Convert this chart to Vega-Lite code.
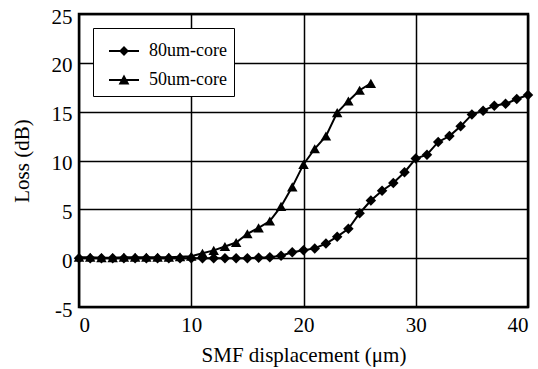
{
  "$schema": "https://vega.github.io/schema/vega-lite/v6.json",
  "width": 449,
  "height": 293,
  "autosize": {"type": "none"},
  "padding": {"left": 79, "top": 14, "right": 10, "bottom": 62},
  "background": "white",
  "config": {
    "font": "Liberation Serif",
    "view": {"stroke": "black", "strokeWidth": 2.5},
    "axis": {
      "grid": true, "gridColor": "black", "gridOpacity": 1, "gridWidth": 1.5,
      "domain": false, "ticks": false,
      "labelFont": "Liberation Serif", "labelFontSize": 21, "labelColor": "black",
      "titleFont": "Liberation Serif", "titleFontSize": 21, "titleFontWeight": "normal", "titleColor": "black"
    }
  },
  "data": {"values": [
    {"x":0,"loss":0,"series":"80um-core"},{"x":1,"loss":0,"series":"80um-core"},{"x":2,"loss":0,"series":"80um-core"},{"x":3,"loss":0,"series":"80um-core"},{"x":4,"loss":0,"series":"80um-core"},{"x":5,"loss":0,"series":"80um-core"},{"x":6,"loss":0,"series":"80um-core"},{"x":7,"loss":0,"series":"80um-core"},{"x":8,"loss":0,"series":"80um-core"},{"x":9,"loss":0,"series":"80um-core"},{"x":10,"loss":0,"series":"80um-core"},{"x":11,"loss":0,"series":"80um-core"},{"x":12,"loss":0,"series":"80um-core"},{"x":13,"loss":0,"series":"80um-core"},{"x":14,"loss":0,"series":"80um-core"},{"x":15,"loss":0,"series":"80um-core"},{"x":16,"loss":0.05,"series":"80um-core"},{"x":17,"loss":0.1,"series":"80um-core"},{"x":18,"loss":0.24,"series":"80um-core"},{"x":19,"loss":0.6,"series":"80um-core"},{"x":20,"loss":0.8,"series":"80um-core"},{"x":21,"loss":1.0,"series":"80um-core"},{"x":22,"loss":1.5,"series":"80um-core"},{"x":23,"loss":2.2,"series":"80um-core"},{"x":24,"loss":3.0,"series":"80um-core"},{"x":25,"loss":4.6,"series":"80um-core"},{"x":26,"loss":5.9,"series":"80um-core"},{"x":27,"loss":6.9,"series":"80um-core"},{"x":28,"loss":7.7,"series":"80um-core"},{"x":29,"loss":8.8,"series":"80um-core"},{"x":30,"loss":10.2,"series":"80um-core"},{"x":31,"loss":10.6,"series":"80um-core"},{"x":32,"loss":11.9,"series":"80um-core"},{"x":33,"loss":12.5,"series":"80um-core"},{"x":34,"loss":13.5,"series":"80um-core"},{"x":35,"loss":14.7,"series":"80um-core"},{"x":36,"loss":15.1,"series":"80um-core"},{"x":37,"loss":15.6,"series":"80um-core"},{"x":38,"loss":15.8,"series":"80um-core"},{"x":39,"loss":16.3,"series":"80um-core"},{"x":40,"loss":16.7,"series":"80um-core"},
    {"x":0,"loss":0.1,"series":"50um-core"},{"x":1,"loss":0.1,"series":"50um-core"},{"x":2,"loss":0.05,"series":"50um-core"},{"x":3,"loss":0.05,"series":"50um-core"},{"x":4,"loss":0.1,"series":"50um-core"},{"x":5,"loss":0.1,"series":"50um-core"},{"x":6,"loss":0.1,"series":"50um-core"},{"x":7,"loss":0.1,"series":"50um-core"},{"x":8,"loss":0.1,"series":"50um-core"},{"x":9,"loss":0.15,"series":"50um-core"},{"x":10,"loss":0.2,"series":"50um-core"},{"x":11,"loss":0.5,"series":"50um-core"},{"x":12,"loss":0.8,"series":"50um-core"},{"x":13,"loss":1.2,"series":"50um-core"},{"x":14,"loss":1.6,"series":"50um-core"},{"x":15,"loss":2.5,"series":"50um-core"},{"x":16,"loss":3.1,"series":"50um-core"},{"x":17,"loss":3.8,"series":"50um-core"},{"x":18,"loss":5.3,"series":"50um-core"},{"x":19,"loss":7.3,"series":"50um-core"},{"x":20,"loss":9.6,"series":"50um-core"},{"x":21,"loss":11.2,"series":"50um-core"},{"x":22,"loss":12.5,"series":"50um-core"},{"x":23,"loss":14.9,"series":"50um-core"},{"x":24,"loss":16.1,"series":"50um-core"},{"x":25,"loss":17.2,"series":"50um-core"},{"x":26,"loss":17.9,"series":"50um-core"}
  ]},
  "encoding": {
    "x": {"field": "x", "type": "quantitative",
      "scale": {"domain": [0, 40], "nice": false},
      "axis": {"values": [0, 10, 20, 30, 40], "title": "SMF displacement (μm)", "labelPadding": 7, "titlePadding": 9}},
    "y": {"field": "loss", "type": "quantitative",
      "scale": {"domain": [-5, 25], "nice": false, "zero": false},
      "axis": {"values": [-5, 0, 5, 10, 15, 20, 25], "labelExpr": "'' + datum.value", "title": "Loss (dB)", "labelPadding": 7, "labelOffset": 3, "titlePadding": 19}}
  },
  "layer": [
    {
      "mark": {"type": "line", "color": "black", "strokeWidth": 2},
      "encoding": {"detail": {"field": "series"}}
    },
    {
      "mark": {"type": "point", "filled": true, "color": "black", "opacity": 1, "size": 110},
      "encoding": {
        "shape": {"field": "series", "type": "nominal",
          "scale": {"domain": ["80um-core", "50um-core"], "range": ["diamond", "triangle-up"]},
          "legend": null}
      }
    },
    {
      "transform": [{"filter": "datum.x < -100"}],
      "mark": {"type": "point", "filled": true, "color": "black", "opacity": 1},
      "encoding": {
        "shape": {"field": "series", "type": "nominal",
          "scale": {"domain": ["80um-core", "50um-core"],
            "range": ["M-1,-0.06L1,-0.06L1,0.06L-1,0.06Z M0,-0.33L0.33,0L0,0.33L-0.33,0Z", "M-1,-0.06L1,-0.06L1,0.06L-1,0.06Z M0,-0.36L0.36,0.3L-0.36,0.3Z"]},
          "legend": {
            "title": null, "orient": "none", "legendX": 14, "legendY": 14,
            "fillColor": "white", "strokeColor": "black", "padding": 7,
            "symbolSize": 900, "symbolOffset": 8, "labelOffset": 9,
            "symbolFillColor": "black", "symbolOpacity": 1,
            "labelFont": "Liberation Serif", "labelFontSize": 18, "labelColor": "black", "rowPadding": 4,
            "encode": {
              "legend": {"update": {"strokeWidth": {"value": 1.5}}},
              "symbols": {"update": {"fill": {"value": "black"}, "opacity": {"value": 1}}}}
          }}
      }
    }
  ],
  "resolve": {"scale": {"shape": "independent"}}
}
